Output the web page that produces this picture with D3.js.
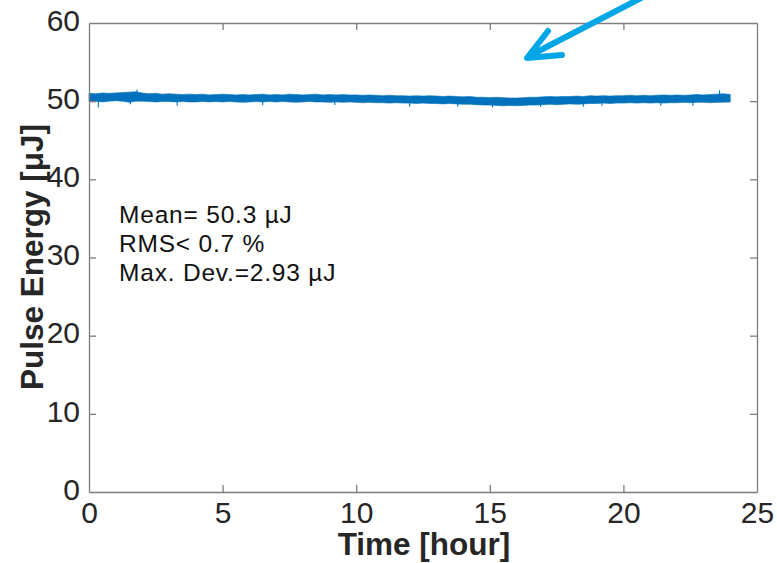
<!DOCTYPE html>
<html>
<head>
<meta charset="utf-8">
<script src="https://cdn.jsdelivr.net/npm/d3@7"></script>
<style>
  html, body { margin: 0; padding: 0; background: #fff; }
  svg { display: block; }
  text { font-family: "Liberation Sans", Arial, Helvetica, sans-serif; }
</style>
</head>
<body>
<svg id="chart" width="777" height="563"></svg>
<script>
// ---- data ----
const xTicks = [0, 5, 10, 15, 20, 25];
const yTicks = [0, 10, 20, 30, 40, 50, 60];
const sampleStep = 0.25; // hours between envelope samples
// upper envelope of the pulse-energy trace (µJ), every 0.25 h from 0 to 24 h
const upperEnv = [
  51.0, 50.95, 51.05, 51.0,
  51.05, 51.1, 51.15, 51.2,
  51.05, 50.95, 51.0, 50.9,
  50.95, 50.9, 50.85, 50.9,
  50.85, 50.9, 50.8, 50.85,
  50.9, 50.85, 50.8, 50.85,
  50.8, 50.85, 50.9, 50.8,
  50.85, 50.8, 50.9, 50.85,
  50.8, 50.85, 50.9, 50.8,
  50.85, 50.8, 50.85, 50.8,
  50.8, 50.75, 50.8, 50.75,
  50.7, 50.75, 50.7, 50.7,
  50.65, 50.7, 50.65, 50.7,
  50.65, 50.6, 50.65, 50.6,
  50.55, 50.6, 50.5, 50.5,
  50.45, 50.5, 50.45, 50.4,
  50.4, 50.45, 50.5, 50.5,
  50.55, 50.6, 50.55, 50.6,
  50.6, 50.65, 50.6, 50.7,
  50.65, 50.7, 50.65, 50.7,
  50.7, 50.75, 50.7, 50.75,
  50.7, 50.75, 50.8, 50.75,
  50.8, 50.75, 50.8, 50.85,
  50.8, 50.85, 50.9, 50.95,
  50.85
];
// lower envelope (µJ)
const lowerEnv = [
  49.95, 50.0, 49.9, 50.0,
  50.05, 50.0, 49.85, 50.0,
  50.0, 49.95, 49.9, 49.95,
  49.95, 49.9, 49.95, 49.9,
  49.9, 49.95, 49.9, 49.95,
  49.9, 49.95, 49.9, 49.85,
  49.9, 49.95, 49.9, 49.95,
  49.9, 49.95, 49.9, 49.85,
  49.9, 49.95, 49.9, 49.9,
  49.85, 49.9, 49.85, 49.9,
  49.85, 49.8, 49.85, 49.8,
  49.8, 49.75, 49.8, 49.75,
  49.75, 49.7, 49.75, 49.7,
  49.7, 49.65, 49.7, 49.65,
  49.6, 49.6, 49.55, 49.5,
  49.5, 49.45, 49.4, 49.45,
  49.4, 49.45, 49.5, 49.5,
  49.55, 49.6, 49.55, 49.6,
  49.65, 49.6, 49.65, 49.7,
  49.7, 49.75, 49.7, 49.75,
  49.75, 49.8, 49.75, 49.8,
  49.75, 49.8, 49.75, 49.8,
  49.8, 49.85, 49.8, 49.85,
  49.85, 49.8, 49.85, 49.85,
  49.9
];
// isolated spikes in the trace: time (h) and extreme value (µJ)
const spikeTimes  = [0.35, 1.55, 1.8, 3.3, 6.5, 9.2, 12.0, 13.8, 15.1, 16.9, 18.5, 19.2, 21.4, 22.6, 23.6];
const spikeValues = [49.2, 49.6, 51.5, 49.4, 49.5, 49.5, 49.3, 49.3, 49.2, 49.3, 49.3, 49.4, 49.4, 49.4, 51.4];
const notes = ["Mean= 50.3 \u00b5J", "RMS< 0.7 %", "Max. Dev.=2.93 \u00b5J"];

// ---- layout ----
const svg = d3.select("#chart");
const L = 89, R = 757, T = 23, B = 492;
const x = d3.scaleLinear().domain([0, 25]).range([L, R]);
const y = d3.scaleLinear().domain([0, 60]).range([B, T]);
const axisColor = "#7d7d7d", textColor = "#262626", lineColor = "#0072BD";
const tickLen = 7;

// data trace
const pts = upperEnv.map((u, i) => ({ t: i * sampleStep, hi: u, lo: lowerEnv[i] }));
svg.append("path")
  .datum(pts)
  .attr("fill", lineColor)
  .attr("stroke", lineColor)
  .attr("stroke-width", 0.6)
  .attr("d", d3.area().x(d => x(d.t)).y0(d => y(d.lo)).y1(d => y(d.hi)));
svg.append("g").selectAll("line")
  .data(spikeTimes.map((t, i) => ({ t, v: spikeValues[i] })))
  .join("line")
  .attr("x1", d => x(d.t)).attr("x2", d => x(d.t))
  .attr("y1", y(50.3)).attr("y2", d => y(d.v))
  .attr("stroke", lineColor).attr("stroke-width", 1.1);

// axes (MATLAB-style box with inward ticks on all sides)
const axB = d3.axisBottom(x).tickValues(xTicks).tickSizeInner(-tickLen).tickSizeOuter(0).tickPadding(10);
const axL = d3.axisLeft(y).tickValues(yTicks).tickSizeInner(-tickLen).tickSizeOuter(0).tickPadding(9);
const axT = d3.axisTop(x).tickValues(xTicks).tickSizeInner(-tickLen).tickSizeOuter(0).tickFormat("");
const axR = d3.axisRight(y).tickValues(yTicks).tickSizeInner(-tickLen).tickSizeOuter(0).tickFormat("");

function styleAxis(g) {
  g.selectAll(".domain").attr("stroke", axisColor).attr("stroke-width", 1.3);
  g.selectAll(".tick line").attr("stroke", axisColor).attr("stroke-width", 1.3);
  g.selectAll(".tick text").attr("fill", textColor).attr("font-size", 30)
    .attr("font-family", "'Liberation Sans', Arial, sans-serif");
}
svg.append("g").attr("transform", `translate(0,${B})`).call(axB).call(styleAxis);
svg.append("g").attr("transform", `translate(${L},0)`).call(axL).call(styleAxis)
  .selectAll(".tick text").attr("dy", "0.24em");
svg.append("g").attr("transform", `translate(0,${T})`).call(axT).call(styleAxis);
svg.append("g").attr("transform", `translate(${R},0)`).call(axR).call(styleAxis);
// hide end ticks overlapping the box corners
svg.selectAll(".tick").filter(d => d === 0 || d === 25 || d === 60).select("line").attr("opacity", 0);

// axis titles
svg.append("text")
  .attr("x", 424).attr("y", 555)
  .attr("text-anchor", "middle")
  .attr("font-size", 31.5).attr("font-weight", "bold").attr("fill", textColor)
  .text("Time [hour]");
svg.append("text")
  .attr("transform", "translate(43,257) rotate(-90)")
  .attr("text-anchor", "middle")
  .attr("font-size", 31.5).attr("font-weight", "bold").attr("fill", textColor)
  .text("Pulse Energy [\u03bcJ]");

// annotation
svg.append("g").selectAll("text")
  .data(notes)
  .join("text")
  .attr("x", 119).attr("y", (d, i) => 223 + i * 29)
  .attr("font-size", 24.5).attr("letter-spacing", 0.8).attr("fill", "#111")
  .text(d => d);

// arrow
const arrowColor = "#00A6E6";
const tip = [527, 58];
svg.append("g")
  .attr("fill", "none").attr("stroke", arrowColor).attr("stroke-width", 6)
  .attr("stroke-linecap", "round").attr("stroke-linejoin", "round")
  .call(g => {
    g.append("line").attr("x1", 645).attr("y1", -4).attr("x2", tip[0] + 4).attr("y2", tip[1] - 3);
    g.append("polyline").attr("points", `548,31 ${tip[0]},${tip[1]} 562,55`);
  });
</script>
</body>
</html>
